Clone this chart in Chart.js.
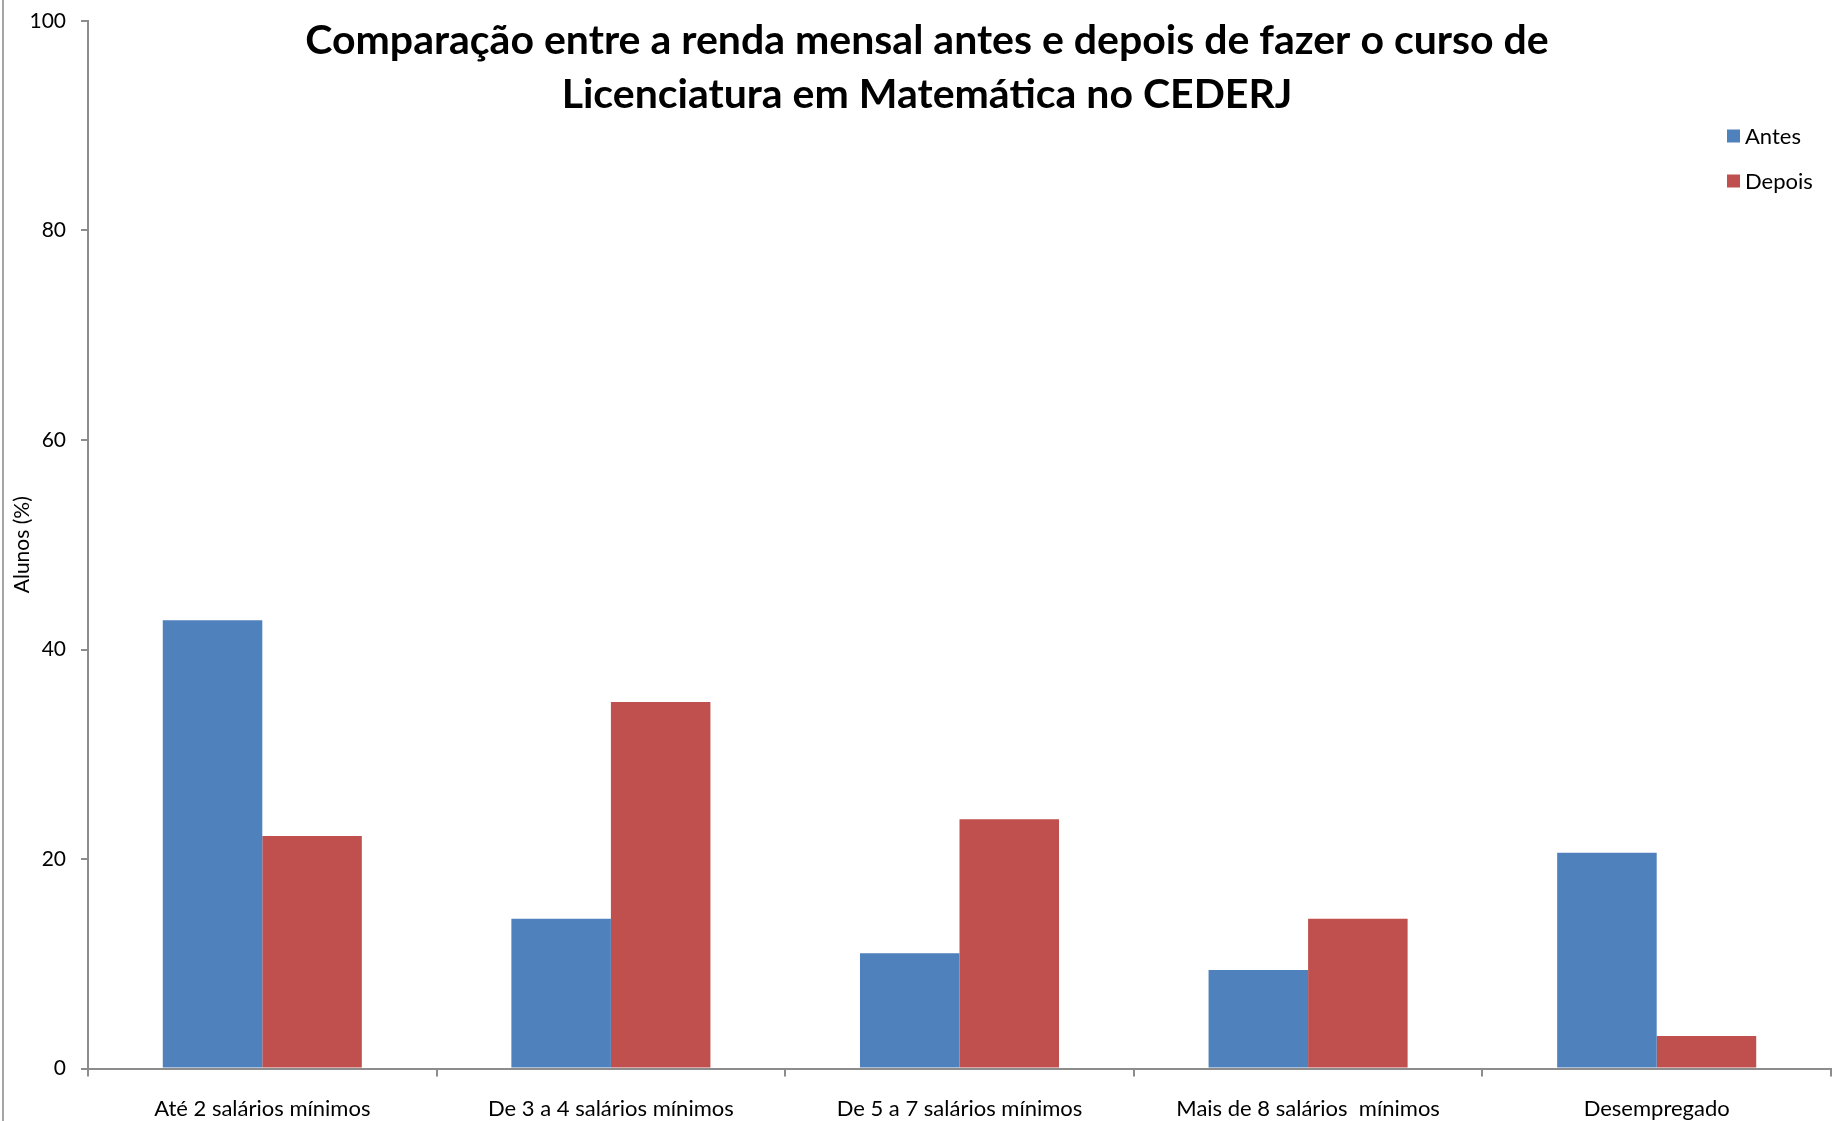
<!DOCTYPE html>
<html>
<head>
<meta charset="utf-8">
<title>Renda mensal - CEDERJ</title>
<script src="https://cdn.jsdelivr.net/npm/chart.js@4.4.0/dist/chart.umd.min.js"></script>
<style>
  html, body { margin: 0; padding: 0; background: #fff; }
  #wrap { position: relative; width: 1835px; height: 1121px; }
  #frame { position: absolute; left: 2px; top: 0; width: 2px; height: 1121px; background: #a6a6a6; }
</style>
</head>
<body>
<div id="wrap">
  <canvas id="rendaChart" width="1835" height="1121"></canvas>
  <div id="frame"></div>
</div>
<script>
// Categories (faixas de renda)
const categorias = [
  "Até 2 salários mínimos",
  "De 3 a 4 salários mínimos",
  "De 5 a 7 salários mínimos",
  "Mais de 8 salários  mínimos",
  "Desempregado"
];

// Percentual de alunos antes e depois do curso
const antes = [42.8, 14.3, 11.0, 9.4, 20.6];
const depois = [22.2, 35.0, 23.8, 14.3, 3.1];

// Y axis ticks
const yTicks = [0, 20, 40, 60, 80, 100];

const tituloLinhas = [
  "Comparação entre a renda mensal antes e depois de fazer o curso de",
  "Licenciatura em Matemática no CEDERJ"
];

const FONT = "Lato, 'Open Sans', sans-serif";
const AXIS_GRAY = "#8c8c8c";

// Title drawn over the plot area, like the spreadsheet chart
const titlePlugin = {
  id: "overlayTitle",
  afterDraw(chart) {
    const ctx = chart.ctx;
    ctx.save();
    ctx.fillStyle = "#000";
    ctx.font = "bold 41px " + FONT;
    ctx.textAlign = "center";
    ctx.textBaseline = "middle";
    tituloLinhas.forEach((linha, i) => {
      ctx.fillText(linha, 927, 41 + i * 54);
    });
    ctx.restore();
  }
};

// Legend in the top-right corner, also overlaid
const legendPlugin = {
  id: "overlayLegend",
  afterDraw(chart) {
    const ctx = chart.ctx;
    ctx.save();
    ctx.font = "22px " + FONT;
    ctx.textBaseline = "middle";
    ctx.textAlign = "left";
    chart.data.datasets.forEach((ds, i) => {
      const cy = 136 + i * 45;
      ctx.fillStyle = ds.backgroundColor;
      ctx.fillRect(1727, cy - 6.5, 13, 13);
      ctx.fillStyle = "#000";
      ctx.fillText(ds.label, 1745, cy + 1);
    });
    ctx.restore();
  }
};

const ctx = document.getElementById("rendaChart").getContext("2d");
const rendaChart = new Chart(ctx, {
  type: "bar",
  data: {
    labels: categorias,
    datasets: [
      {
        label: "Antes",
        data: antes,
        backgroundColor: "#4F81BD",
        borderWidth: 0,
        categoryPercentage: 0.571,
        barPercentage: 1.0,
      },
      {
        label: "Depois",
        data: depois,
        backgroundColor: "#C0504D",
        borderWidth: 0,
        categoryPercentage: 0.571,
        barPercentage: 1.0,
      },
    ],
  },
  options: {
    responsive: false,
    animation: false,
    devicePixelRatio: 1,
    layout: {
      padding: { left: 0, right: 4, top: 21, bottom: 0 },
    },
    plugins: {
      legend: { display: false },
      title: { display: false },
      tooltip: { enabled: false },
    },
    scales: {
      x: {
        grid: {
          display: true,
          drawOnChartArea: false,
          drawTicks: true,
          tickLength: 8,
          color: AXIS_GRAY,
          lineWidth: 2,
        },
        border: { display: true, color: AXIS_GRAY, width: 2 },
        ticks: {
          color: "#000",
          font: { family: FONT, size: 22 },
          padding: 19,
          maxRotation: 0,
          autoSkip: false,
        },
        afterFit(scale) {
          scale.height = 52.5;
        },
      },
      y: {
        min: 0,
        max: 100,
        afterBuildTicks(scale) {
          scale.ticks = yTicks.map((v) => ({ value: v }));
        },
        grid: {
          display: true,
          drawOnChartArea: false,
          drawTicks: true,
          tickLength: 7,
          color: AXIS_GRAY,
          lineWidth: 2,
        },
        border: { display: true, color: AXIS_GRAY, width: 2 },
        ticks: {
          color: "#000",
          font: { family: FONT, size: 21 },
          padding: 15,
        },
        title: {
          display: true,
          text: "Alunos (%)",
          color: "#000",
          font: { family: FONT, size: 21 },
          padding: { top: 10, bottom: 0 },
        },
        afterFit(scale) {
          scale.width = 88;
          // keep the plot top aligned with the "100" tick, not pushed down by label padding
          scale.paddingTop = 12;
          scale.paddingBottom = 12;
        },
      },
    },
  },
  plugins: [titlePlugin, legendPlugin],
});
</script>
</body>
</html>
